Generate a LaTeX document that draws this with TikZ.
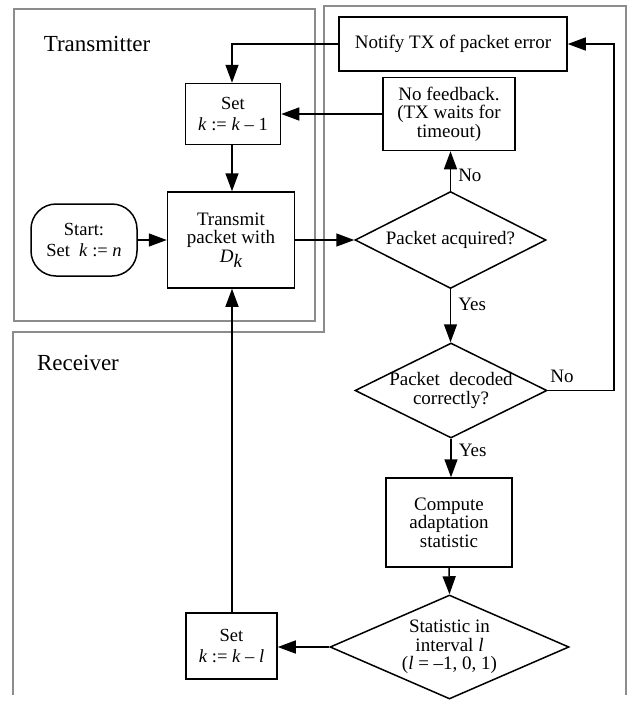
\documentclass[tikz,border=0pt]{standalone}
\usepackage{fontspec}
\setmainfont{Liberation Serif}
\usetikzlibrary{shapes.geometric,arrows.meta,calc}
\begin{document}
\begin{tikzpicture}[x=1pt,y=-1pt,
  every node/.style={font=\fontsize{19}{18.5}\selectfont},
  frame/.style={draw=black!45,line width=1.8pt},
  box/.style={draw,line width=1.5pt,align=center,inner sep=0pt},
  dia/.style={draw,line width=1.5pt,diamond,inner sep=0pt,aspect=2},
  startbox/.style={draw,line width=1.5pt,align=center,inner sep=0pt,rounded corners=25pt},
  arr/.style={line width=1.5pt,-{Triangle[length=18pt,width=13pt]}},
  lab/.style={inner sep=1pt},
  small/.style={font=\fontsize{18.5}{20.5}\selectfont},
  title/.style={font=\fontsize{23}{24}\selectfont}]
\useasboundingbox (0,0) rectangle (632,705);
% frames
\draw[frame] (14,9) rectangle (315,321);
\draw[frame] (13,695) -- (13,332) -- (324,332) -- (324,6) -- (626,6) -- (626,695);
\node[title] (txt) at (97,44) {Transmitter};
\node[title] (rxt) at (78,363) {Receiver};
% nodes
\node[box,minimum width=228pt,minimum height=54pt] (notify) at (453,44) {Notify TX of packet error};
\node[box,minimum width=132pt,minimum height=73pt] (nofb) at (449,114) {No feedback.\\(TX waits for\\timeout)};
\node[box,small,minimum width=95pt,minimum height=61pt] (setA) at (233,114) {Set\\\textit{k} := \textit{k} – 1};
\node[box,minimum width=127pt,minimum height=96pt] (trans) at (231,240) {Transmit\\packet with\\\textit{D}\raisebox{-0.6ex}{\textit{k}}};
\node[startbox,small,minimum width=106pt,minimum height=72pt] (start) at (84,240) {Start:\\Set~~\textit{k} := \textit{n}};
\node[dia,minimum width=191pt,minimum height=97pt,label={center:Packet acquired?}] (acq) at (450.5,240) {};
\node[dia,minimum width=192pt,minimum height=95pt,label={[align=center]center:Packet~~decoded\\correctly?}] (dec) at (451,390.5) {};
\node[box,minimum width=126pt,minimum height=89pt] (comp) at (449,522.5) {Compute\\adaptation\\statistic};
\node[dia,minimum width=239pt,minimum height=104pt,label={[align=center]center:Statistic in\\interval \textit{l}\\(\textit{l} = –1, 0, 1)}] (stat) at (449.5,647) {};
\node[box,small,minimum width=91pt,minimum height=66pt] (setB) at (231.5,646) {Set\\\textit{k} := \textit{k} – \textit{l}};
% connectors
\coordinate (cA) at (232,44);
\coordinate (cR) at (614,44);
\draw[arr] (notify.west) -- (cA) -- (cA |- setA.north);
\draw[arr] (nofb.west) -- (setA.east);
\draw[arr] (setA.south -| cA) -- (cA |- trans.north);
\draw[arr] (start.east) -- (trans.west);
\draw[arr] (trans.east) -- (acq.west);
\draw[arr] (acq.north) -- (acq.north |- nofb.south) node[lab,pos=0.4,anchor=west,xshift=6pt] (no1) {No};
\draw[arr] (acq.south) -- (acq.south |- dec.north) node[lab,pos=0.28,anchor=west,xshift=6pt] (yes1) {Yes};
\draw[arr] (dec.east) -- (cR |- dec.east) -- (cR) -- (notify.east);
\node[lab,anchor=south] (no2) at (562,384) {No};
\draw[arr] (dec.south) -- (dec.south |- comp.north) node[lab,pos=0.3,anchor=west,xshift=6pt] (yes2) {Yes};
\draw[arr] (comp.south) -- (stat.north);
\draw[arr] (stat.west) -- (stat.west -| setB.east);
\draw[arr] (setB.north -| cA) -- (cA |- trans.south);
\end{tikzpicture}
\end{document}
